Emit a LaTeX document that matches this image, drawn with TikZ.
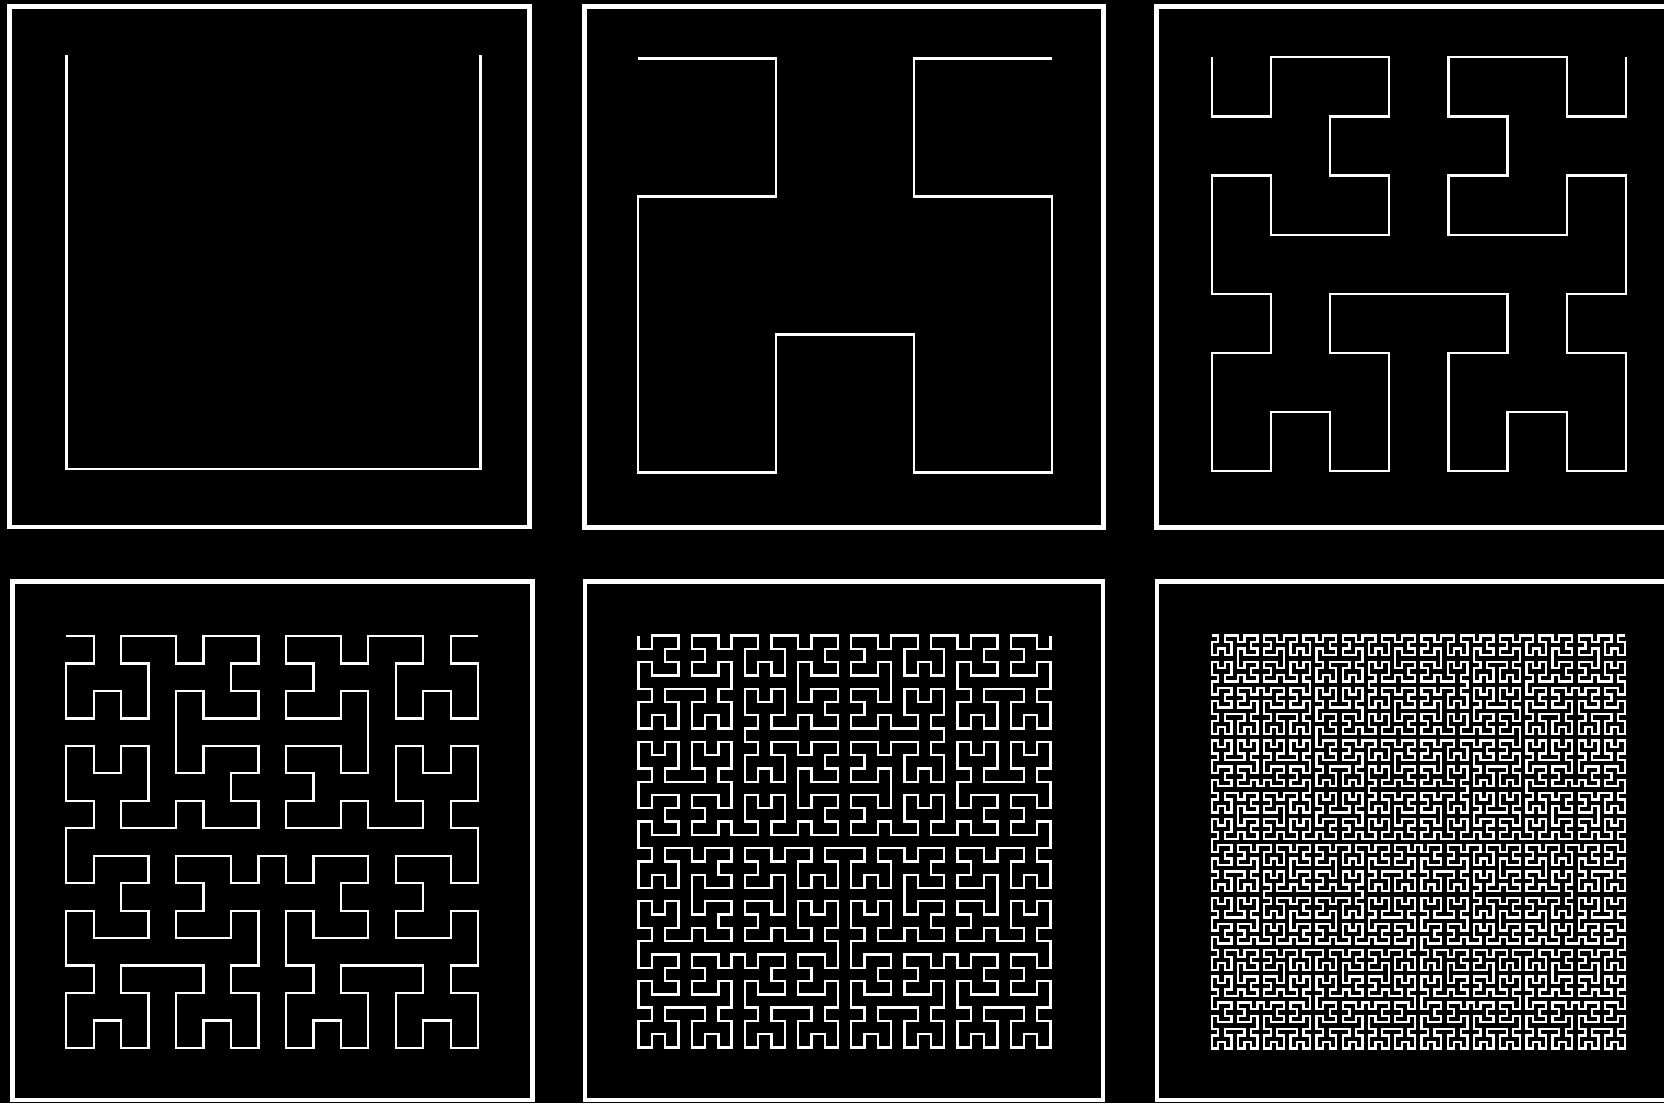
\documentclass[tikz,border=0pt]{standalone}
\usetikzlibrary{lindenmayersystems}
\pgfdeclarelindenmayersystem{hilb}{
  \rule{A -> +BF-AFA-FB+}
  \rule{B -> -AF+BFB+FA-}
}
\tikzset{
  frame/.style={draw=white, line width=2.35pt},
  curve/.style={draw=white, line width=1.15pt, line join=miter}
}
\begin{document}
\begin{tikzpicture}[x=0.5pt, y=-0.5pt]
  \useasboundingbox[fill=black] (0,0) rectangle (1664,1103);
  \clip (0,0) rectangle (1664,1103);
  % frames
  \draw[frame] (9.5,6.2) rectangle (529.7,527);
  \draw[frame] (584.5,6.5) rectangle (1103.2,527.5);
  \draw[frame] (1156.8,6.2) rectangle (1680,527.5);
  \draw[frame] (12.5,581.5) rectangle (532.8,1100);
  \draw[frame] (585,581.5) rectangle (1103,1100);
  \draw[frame] (1157,581.5) rectangle (1680,1100);
  % Hilbert curves, orders 1..6
  \begin{scope}[shift={(66.5,55)}]
    \draw[curve, lindenmayer system={hilb, axiom=B, order=1, step=207pt, angle=90}] (0,0) lindenmayer system;
  \end{scope}
  \begin{scope}[shift={(638,58.5)}]
    \draw[curve, lindenmayer system={hilb, axiom=B, order=2, step=69pt, angle=90}] (0,0) lindenmayer system;
  \end{scope}
  \begin{scope}[shift={(1211.8,57.3)}]
    \draw[curve, lindenmayer system={hilb, axiom=B, order=3, step=29.5714pt, angle=90}] (0,0) lindenmayer system;
  \end{scope}
  \begin{scope}[shift={(66.2,636)}]
    \draw[curve, lindenmayer system={hilb, axiom=B, order=4, step=13.7333pt, angle=90}] (0,0) lindenmayer system;
  \end{scope}
  \begin{scope}[shift={(638.6,635.5)}]
    \draw[curve, lindenmayer system={hilb, axiom=B, order=5, step=6.64516pt, angle=90}] (0,0) lindenmayer system;
  \end{scope}
  \begin{scope}[shift={(1211.7,635.5)}]
    \draw[curve, lindenmayer system={hilb, axiom=B, order=6, step=3.27778pt, angle=90}] (0,0) lindenmayer system;
  \end{scope}
\end{tikzpicture}
\end{document}
